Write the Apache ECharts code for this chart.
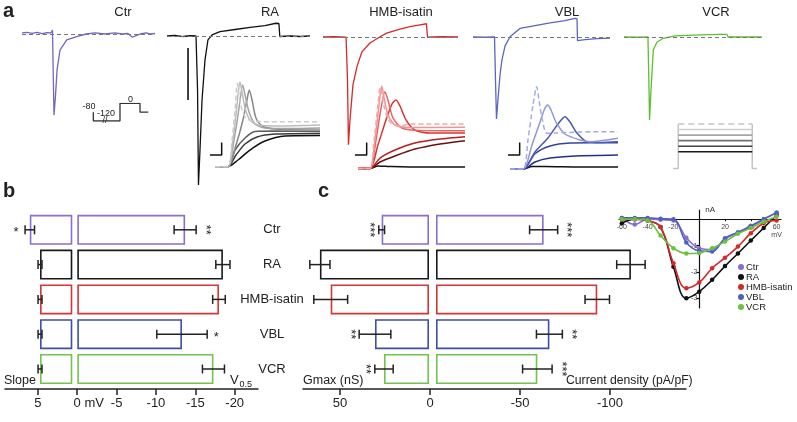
<!DOCTYPE html>
<html><head><meta charset="utf-8">
<script src="https://cdn.jsdelivr.net/npm/echarts@6/dist/echarts.min.js"></script>
<style>html,body{margin:0;padding:0;background:#fff}#c{width:797px;height:422px}</style>
</head><body><div id="c"></div>
<script>
// ================= DATA =================
const groups = ['Ctr','RA','HMB-isatin','VBL','VCR'];
// panel b
const slopeMean = [5.4, 4.1, 4.1, 4.1, 4.1];
const slopeErr  = [0.6, 0.25, 0.25, 0.25, 0.25];
const slopeStars = ['*','','','',''];
const v05Mean = [-13.7, -18.5, -18.0, -13.3, -17.3];
const v05Err  = [1.4, 0.9, 0.8, 3.2, 1.4];
const v05Stars = ['**','','','*',''];
const bTicks = [5, 0, -5, -10, -15, -20];
// panel c
const gmaxMean = [26.3, 60.6, 54.6, 30.0, 25.0];
const gmaxErr  = [1.6, 5.6, 9.4, 8.8, 5.1];
const gmaxStars = ['***','','','**','**'];
const cdMean = [-59.8, -108.3, -89.6, -63.0, -56.3];
const cdErr  = [7.8, 7.9, 6.8, 7.2, 8.2];
const cdStars = ['***','','','**','***'];
const cTicks = [50, 0, -50, -100];
// IV inset (mV, nA)
const ivVolt = [-60,-50,-40,-30,-20,-10,0,10,20,30,40,50,60];
const ivCtr = [0.05,-0.2,0.0,-0.02,-0.05,-0.7,-1.1,-1.15,-0.75,-0.5,-0.25,0.0,0.25];
const ivRA  = [-0.15,0.0,-0.05,-0.3,-1.8,-3.0,-2.75,-2.3,-1.78,-1.3,-0.81,-0.33,0.16];
const ivHMB = [0.0,0.0,-0.05,-0.3,-1.67,-2.62,-2.4,-1.86,-1.46,-1.04,-0.53,-0.15,-0.05];
const ivVBL = [0.05,0.05,0.05,0.02,0.0,-0.88,-1.2,-1.23,-0.72,-0.5,-0.27,0.0,0.25];
const ivVCR = [0.0,0.0,-0.05,-0.62,-1.1,-1.3,-1.28,-1.1,-0.85,-0.55,-0.33,-0.1,0.1];
const ivTicksX = [-60,-40,-20,20,40,60];
const ivTicksY = [-1,-2,-3];
// panel a: sodium current traces (time ms, current nA)
const traceCtr = [[0,0.04],[5.3,0.06],[10.5,0.02],[15.8,0.06],[21.1,0.01],[26.3,0.05],[30.5,0.04],[32.1,0.15],[33.0,-1.77],[33.7,-3.12],[35.3,-2.35],[36.9,-1.38],[40.0,-0.62],[47.1,-0.23],[57.6,-0.1],[67.4,0.0],[76.9,0.04],[87.4,0.0],[97.9,0.04],[105.3,0.0],[111.6,0.02],[115.8,-0.12],[119.0,-0.08],[124.3,0.0],[130.6,0.04],[134.8,0.0],[140,0.02]];
const traceRA = [[0,0],[7.8,0.02],[15.7,-0.02],[22.5,0.01],[28.4,0],[29.9,-2.08],[30.8,-5.73],[32.3,-4.38],[34.3,-2.46],[37.2,-0.92],[40.1,-0.15],[44.1,0.04],[51.9,0.17],[66.6,0.25],[81.3,0.33],[95.9,0.40],[106.7,0.49],[109.6,0.48],[110.4,-0.02],[120.4,0],[130.2,-0.02],[140,0]];
const traceHMB = [[0,0],[12.4,0.01],[23.9,-0.01],[25.4,-1.64],[26.4,-4.14],[28.0,-3.18],[31.1,-1.83],[35.3,-1.13],[40.4,-0.57],[48.7,-0.23],[59.1,0.01],[66.0,0.15],[79.8,0.30],[90.2,0.40],[100.6,0.47],[107.3,0.51],[108.4,-0.01],[121.3,0.01],[140,0]];
const traceVBL = [[0,0],[12.3,-0.01],[22.0,0],[23.0,-1.65],[24.0,-3.15],[25.5,-2.42],[27.6,-1.46],[29.6,-0.88],[32.7,-0.35],[37.8,0.01],[48.0,0.33],[63.4,0.44],[78.7,0.54],[94.0,0.63],[104.2,0.72],[106.3,0.71],[106.8,-0.14],[114.5,-0.10],[126.7,-0.06],[140,-0.04]];
const traceVCR = [[0,0],[16.2,-0.01],[24.3,0],[25.2,-1.65],[25.9,-3.19],[27.4,-2.04],[29.7,-0.5],[33.5,-0.19],[39.9,-0.05],[51.7,0.04],[77.1,0.08],[97.4,0.1],[104.5,0.1],[105.5,0],[122.7,0],[140,0]];
const raScaleBar = [[20.6,-0.46],[20.6,-2.46]];
// activation-family insets (time a.u. 0-100, normalised current 0-100); first = dashed, lightest
const raFamily = [
 [[8.7,3.7],[20,3.7],[23.5,33],[26.1,66.7],[28.1,96.3],[29.6,83],[32.2,66.7],[35.7,57.8],[40.9,54.4],[56.5,53.7],[100,53.7]],
 [[8.7,3.7],[20,3.7],[24.3,33],[27.8,72],[30.4,98],[32.2,86.7],[34.8,68.9],[39.1,55.6],[46.1,50],[65.2,48.9],[100,50]],
 [[8.7,3.7],[20,3.7],[25.2,33],[29.6,68.9],[32.8,94.4],[34.8,83.3],[38.3,64.4],[43.5,51.1],[52.2,46.7],[73.9,46.1],[100,46.7]],
 [[8.7,3.7],[20,3.7],[27,27.8],[33,55.6],[36.5,77.8],[38.5,88.9],[40.9,77.8],[44.3,57.8],[49.6,48.9],[60.9,45.6],[100,44.4]],
 [[8.7,3.7],[20,3.7],[26.1,22.2],[34.8,35.6],[43.5,42.8],[60.9,43.3],[100,42.8]],
 [[8.7,3.7],[20,3.7],[27,16.7],[34.8,28.9],[45.2,36.7],[60.9,40],[100,40.6]],
 [[8.7,3.7],[20,3.7],[28.7,11.1],[39.1,22.2],[52.2,32.2],[69.6,37.8],[100,38.3]]
];
const hmbFamily = [
 [[7,1.7],[17.4,1.7],[20.9,33.3],[24.3,72.2],[26.1,91.9],[27.8,83.3],[30.4,66.7],[34.8,53.3],[43.5,48.9],[52.2,51.1],[69.6,51.1],[100,51.1]],
 [[7,1.7],[17.4,1.7],[21.7,33.3],[25.2,72.2],[27.6,93.3],[29.6,80],[33,61.1],[39.1,50],[52.2,47.2],[100,47.4]],
 [[7,1.7],[17.4,1.7],[22.6,33.3],[27,68.9],[30.4,87],[33,77.8],[37.4,57.8],[45.2,46.7],[60.9,43.9],[100,43.7]],
 [[7,1.7],[17.4,1.7],[24.3,27.8],[31.3,55.6],[36.5,73.3],[40,77.8],[43.5,71.1],[48.7,55.6],[56.5,44.4],[69.6,41.1],[100,41.1]],
 [[7,1.7],[17.4,1.7],[26.1,13.3],[39.1,22.2],[56.5,30],[78.3,34.4],[100,37]],
 [[7,1.7],[17.4,1.7],[26.1,8.9],[39.1,15.6],[56.5,23.3],[78.3,28.9],[100,32.6]],
 [[7,1.7],[17.4,1.7],[24.3,4.4],[34.8,3.9],[60.9,3.3],[100,3.3]]
];
const vblFamily = [
 [[6.1,1.1],[17.7,1.1],[21.7,33.3],[26.1,72.2],[29.3,92.6],[31.3,77.8],[33.9,57.8],[38,40.8],[45.2,41.1],[67,42.2],[100,42.6]],
 [[6.1,1.1],[17.7,1.1],[25.2,27.8],[32.2,53.3],[36.5,68.9],[38.9,72.2],[41.7,66.7],[46.1,53.3],[53.9,40],[67,33.3],[75.7,31.4],[100,35.2]],
 [[6.1,1.1],[17.7,1.1],[27.8,20],[39.1,35.6],[47.8,51.1],[53.9,59.2],[58.3,53.3],[64.3,41.1],[73,31.4],[84.3,30.6],[100,31.4]],
 [[6.1,1.1],[17.7,1.1],[27.8,18],[40.9,26.7],[58.3,30],[75.7,30.3],[100,30.3]],
 [[6.1,1.1],[17.7,1.1],[27.8,8.9],[40.9,13.3],[62.6,15.6],[100,16.7]],
 [[6.1,1.1],[17.7,1.1],[25.2,3.9],[36.5,3.9],[67,3.3],[100,3.3]]
];
const insetScaleBar = [[4.3,16.7],[14.5,16.7],[14.5,30.5]];
// voltage protocols
const ctrProtocol = [[8.2,1],[8.2,0],[49.2,0],[49.2,2],[80,2],[80,1],[92.8,1]]; // level index: 0=-120, 1=-80, 2=0 mV
const ctrProtocolLevels = ['-120','-80','0'];
const stepLevels = [10, 0, -10, -20, -30, -40];
const stepHold = -70;
const stepTimes = [3.3, 9.2, 91.4, 96.7];

// ================= STYLE =================
const FONT = 'Liberation Sans, Arial, Helvetica, sans-serif';
const grpColors = ['#8a6ecf','#1a1a1a','#d83434','#3f4ea6','#72c452'];
const traceColors = ['#7565c4','#111111','#d42a2a','#5a66c0','#5cbf32'];
const raColors = ['#cccccc','#bdbdbd','#a3a3a3','#878787','#5e5e5e','#3a3a3a','#111111'];
const hmbColors = ['#f5a8a8','#f29292','#ea6464','#d83232','#b81e1e','#6a1010','#111111'];
const vblColors = ['#a4abe6','#8f97d9','#4a58b4','#34449e','#22328a','#111111'];
const stepColors = ['#c4c4c4','#cfcfcf','#a6a6a6','#707070','#404040','#1a1a1a'];

const grid=[], xAxis=[], yAxis=[], series=[];
function addGrid(g, xa, ya){
  grid.push(g); const i=grid.length-1;
  xAxis.push(Object.assign({gridIndex:i}, xa));
  yAxis.push(Object.assign({gridIndex:i}, ya));
  return i;
}
const hv = (min,max,extra)=>Object.assign({type:'value',min,max,show:false}, extra||{});

// ---- panel a main traces ----
const traces = [traceCtr, traceRA, traceHMB, traceVBL, traceVCR];
const traceBoxes = [[22,133,8],[167,143,10],[323,135,11],[473,137,11],[624,138,11]];
traces.forEach((tr,k)=>{
  const b = traceBoxes[k];
  const gi = addGrid({left:b[0], width:b[1], top:b[2], height:182}, hv(0,140), hv(-6,1));
  series.push({type:'line', xAxisIndex:gi, yAxisIndex:gi, data:tr, symbol:'none', z:3,
    lineStyle:{color:traceColors[k], width:1.3},
    markLine:{symbol:['none','none'], silent:true, label:{show:false},
      lineStyle:{color:'#777', type:[4,3], width:1}, data:[{yAxis:0}]}});
  if(k===1){
    series.push({type:'line', xAxisIndex:gi, yAxisIndex:gi, data:raScaleBar, symbol:'none',
      lineStyle:{color:'#111', width:1.6}});
  }
});
// ---- insets ----
function family(left, width, curves, colors){
  const gi = addGrid({left, width, top:80, height:90}, hv(0,100), hv(0,100));
  series.push({type:'line', xAxisIndex:gi, yAxisIndex:gi, data:insetScaleBar, symbol:'none',
    lineStyle:{color:'#111', width:1.5}});
  for(let i=curves.length-1;i>=0;i--){
    series.push({type:'line', xAxisIndex:gi, yAxisIndex:gi, data:curves[i], symbol:'none',
      smooth:0.25, z:4, lineStyle:{color:colors[i], width:1.5, type: i===0?[5,3]:'solid'}});
  }
}
family(205,115, raFamily, raColors);
family(350,115, hmbFamily, hmbColors);
family(503,115, vblFamily, vblColors);

// Ctr protocol
{
  const gi = addGrid({left:88, width:65, top:103.3, height:17.7}, hv(0,100),
    {type:'category', data:ctrProtocolLevels, boundaryGap:false, show:false});
  series.push({type:'line', xAxisIndex:gi, yAxisIndex:gi, data:ctrProtocol, symbol:'none',
    lineStyle:{color:'#333', width:1.3}});
}
// VCR step protocol
{
  const gi = addGrid({left:670, width:90, top:121.2, height:50}, hv(0,100), hv(-75,15));
  const [t0,t1,t2,t3] = stepTimes; const top = stepLevels[0];
  series.push({type:'line', xAxisIndex:gi, yAxisIndex:gi, data:[[t0,stepHold],[t1,stepHold],[t1,top]], symbol:'none', lineStyle:{color:'#c4c4c4', width:1.5}});
  series.push({type:'line', xAxisIndex:gi, yAxisIndex:gi, data:[[t2,top],[t2,stepHold],[t3,stepHold]], symbol:'none', lineStyle:{color:'#c4c4c4', width:1.5}});
  stepLevels.forEach((L,i)=>series.push({type:'line', xAxisIndex:gi, yAxisIndex:gi, data:[[t1,L],[t2,L]], symbol:'none',
    lineStyle:{color:stepColors[i], width:1.6, type: i===0?[6,4]:'solid'}}));
}

// ---- panels b & c bars ----
const BAR_TOP=212.4, BAR_H=174;
function barGrid(left, width, min, max, catExtra){
  return addGrid({left, width, top:BAR_TOP, height:BAR_H}, hv(min,max,{inverse:true}),
    Object.assign({type:'category', data:groups, inverse:true, show:false}, catExtra||{}));
}
function bars(gi, vals){
  series.push({type:'bar', xAxisIndex:gi, yAxisIndex:gi, barWidth:30, z:2,
    data: vals.map((v,i)=>({value:v, itemStyle:{color:'rgba(0,0,0,0)', borderColor:grpColors[i], borderWidth:1.6}}))});
}
function errs(gi, means, es, stars, side){
  series.push({type:'custom', xAxisIndex:gi, yAxisIndex:gi, clip:false, z:6,
    data: means.map((m,i)=>[m, i, es[i]]), encode:{x:0, y:1},
    renderItem:(params, api)=>{
      const i=params.dataIndex, m=api.value(0), c=api.value(1), e=api.value(2);
      const a=api.coord([m-e,c]), b=api.coord([m+e,c]);
      const y=a[1], x1=Math.min(a[0],b[0]), x2=Math.max(a[0],b[0]);
      const st={stroke:'#222', lineWidth:1.5};
      const ch=[
        {type:'line', shape:{x1:x1,y1:y,x2:x2,y2:y}, style:st},
        {type:'line', shape:{x1:x1,y1:y-4.5,x2:x1,y2:y+4.5}, style:st},
        {type:'line', shape:{x1:x2,y1:y-4.5,x2:x2,y2:y+4.5}, style:st}];
      const s=stars[i];
      if(s){
        const sx = side==='left' ? x1-9 : x2+9;
        ch.push({type:'text', x:sx, y: s.length===1 ? y+3 : y, rotation: s.length>1 ? -Math.PI/2 : 0,
          style:{text:s, font:'13px '+FONT, fill:'#222', align:'center', verticalAlign:'middle'}});
      }
      return {type:'group', children:ch};
    }});
}
const gSlope = barGrid(5, 67.3, 0, 8.55);
bars(gSlope, slopeMean); errs(gSlope, slopeMean, slopeErr, slopeStars, 'left');
const gV05 = barGrid(77.3, 180.7, -22.96, 0, {show:true, position:'right',
  axisLine:{show:false}, axisTick:{show:false},
  axisLabel:{align:'center', margin:14, fontSize:13, color:'#222', fontFamily:FONT}});
bars(gV05, v05Mean); errs(gV05, v05Mean, v05Err, v05Stars, 'right');
const gGmax = barGrid(303, 126, 0, 70);
bars(gGmax, gmaxMean); errs(gGmax, gmaxMean, gmaxErr, gmaxStars, 'left');
const gCD = barGrid(436, 250, -138.9, 0);
bars(gCD, cdMean); errs(gCD, cdMean, cdErr, cdStars, 'right');

// visible bottom axes
function bottomAxis(left, width, min, max, ticks, fmt){
  addGrid({left, width, top:385, height:4},
    {type:'value', min, max, inverse:true, splitLine:{show:false},
      axisLine:{show:true, onZero:false, lineStyle:{color:'#222', width:1.5}},
      axisTick:{show:true, length:6, customValues:ticks, lineStyle:{color:'#222', width:1.5}},
      axisLabel:{customValues:ticks, margin:8, fontSize:13, color:'#222', fontFamily:FONT, formatter:fmt,
        rich:{h:{color:'rgba(0,0,0,0)', fontSize:13, fontFamily:FONT}}}},
    {type:'value', min:0, max:1, show:false});
}
bottomAxis(5, 253, -22.96, 9.17, bTicks, v => v===0 ? '{h|mV }0 mV' : String(v));
bottomAxis(303, 383, -142.2, 70.56, cTicks, v => String(v));

// ---- IV inset ----
const IV_X=[-62.2, 63.4], IV_Y=[-3.37, 0.35];
{
  // horizontal axis drawn at I = 0 (grid bottom edge at zero current)
  addGrid({left:619, width:162, top:200, height:19.3},
    {type:'value', min:IV_X[0], max:IV_X[1], splitLine:{show:false},
      axisLine:{show:true, onZero:false, lineStyle:{color:'#111', width:1.2}},
      axisTick:{customValues:ivTicksX, length:2, lineStyle:{color:'#111'}},
      axisLabel:{customValues:ivTicksX, fontSize:7, color:'#444', margin:4, fontFamily:FONT, lineHeight:8,
        formatter: v => v===60 ? '60\nmV' : String(v)}},
    {type:'value', min:0, max:1, show:false});
  // vertical axis drawn at V = 0 (grid left edge at zero voltage)
  addGrid({left:699.3, width:81.7, top:210, height:98},
    {type:'value', min:0, max:1, show:false},
    {type:'value', min:IV_Y[0], max:IV_Y[1], splitLine:{show:false},
      name:'nA', nameLocation:'end', nameGap:-4,
      nameTextStyle:{fontSize:8, color:'#333', align:'left', padding:[0,0,0,6], fontFamily:FONT},
      axisLine:{show:true, onZero:false, lineStyle:{color:'#111', width:1.2}},
      axisTick:{customValues:ivTicksY, length:3, lineStyle:{color:'#111', width:1.2}},
      axisLabel:{customValues:ivTicksY, fontSize:7, color:'#444', margin:2, fontFamily:FONT}});
  const gi = addGrid({left:619, width:162, top:210, height:98},
    hv(IV_X[0], IV_X[1]), hv(IV_Y[0], IV_Y[1]));
  const ivSets = [ivCtr, ivRA, ivHMB, ivVBL, ivVCR];
  const ivColors = ['#8a6cd0','#111111','#d62828','#5060c0','#6cc040'];
  ivSets.forEach((arr,k)=>series.push({name:groups[k], type:'line', xAxisIndex:gi, yAxisIndex:gi,
    data: ivVolt.map((v,i)=>[v, arr[i]]), smooth:0.4, symbol:'circle', symbolSize:4.5, z:5+k,
    itemStyle:{color:ivColors[k]}, lineStyle:{color:ivColors[k], width:1.6}}));
}

// ---- texts ----
function txt(x,y,text,size,opts){
  return {type:'text', x, y, silent:true,
    style:{text, font:(opts&&opts.bold?'bold ':'')+size+'px '+FONT, fill:'#222',
      align:(opts&&opts.align)||'center', verticalAlign:'middle'}};
}
const graphic = [
  txt(3,11,'a',20,{bold:true, align:'left'}),
  txt(3,191,'b',20,{bold:true, align:'left'}),
  txt(318,191,'c',20,{bold:true, align:'left'}),
  txt(123,12,'Ctr',13), txt(270,12,'RA',13), txt(401,12,'HMB-isatin',13),
  txt(567,12,'VBL',13), txt(716,12,'VCR',13),
  txt(4,381,'Slope',12.5,{align:'left'}),
  txt(230,380,'V',13,{align:'left'}), txt(239.5,385,'0.5',9,{align:'left'}),
  txt(303,381,'Gmax (nS)',12.5,{align:'left'}),
  txt(566,381,'Current density (pA/pF)',12.2,{align:'left'}),
  txt(89,107,'-80',9), txt(106,113.5,'-120',9), txt(130.5,99.5,'0',9), txt(105,121,'//',9)
];

const option = {
  animation:false,
  backgroundColor:'#fff',
  textStyle:{fontFamily:FONT},
  grid, xAxis, yAxis, series, graphic,
  legend:{data:groups, orient:'vertical', left:738, top:262, icon:'circle', itemWidth:6, itemHeight:6,
    itemGap:0, padding:0, textStyle:{fontSize:9.5, color:'#222', lineHeight:8.3, padding:[0,0,0,-3], fontFamily:FONT}}
};
const chart = echarts.init(document.getElementById('c'), null, {renderer:'canvas'});
chart.setOption(option);
</script></body></html>
